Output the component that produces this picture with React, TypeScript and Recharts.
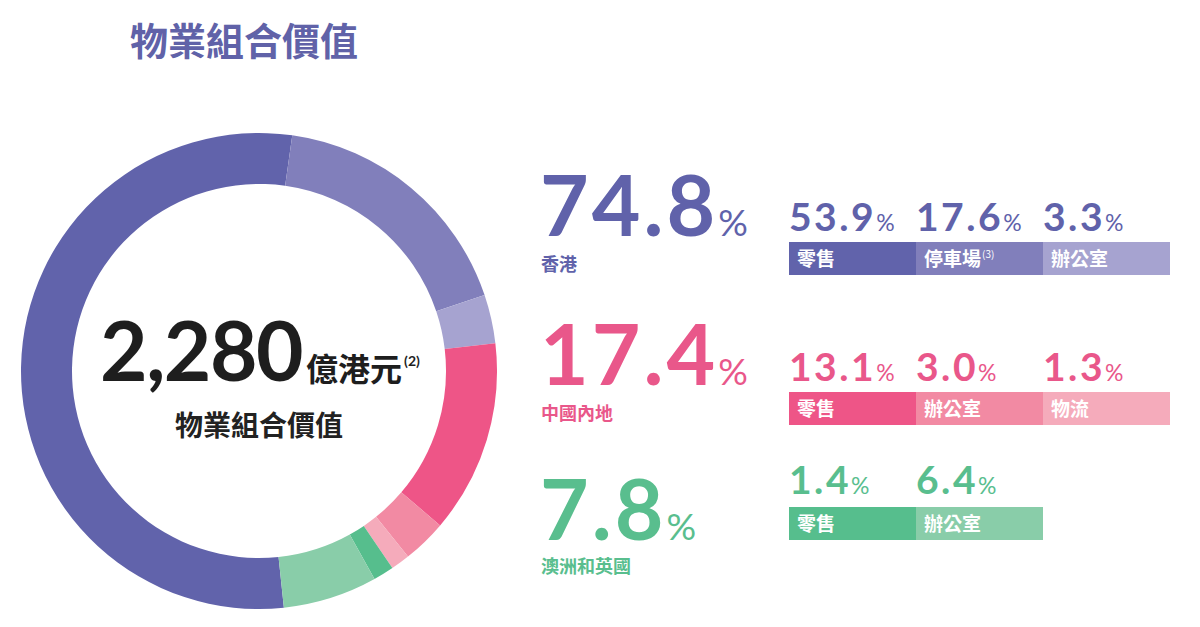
import { Cell, Pie, PieChart } from "recharts";

const title = "物業組合價值";
const totalValue = "2,280";
const totalUnit = "億港元";

const regions = ["香港", "中國內地", "澳洲和英國"];
const regionShares = [74.8, 17.4, 7.8];

const hkLabels = ["零售", "停車場", "辦公室"];
const hkValues = [53.9, 17.6, 3.3];
const cnLabels = ["零售", "辦公室", "物流"];
const cnValues = [13.1, 3.0, 1.3];
const auLabels = ["零售", "辦公室"];
const auValues = [1.4, 6.4];

const hkColors = ["#6163ab", "#817fbb", "#a6a3d0"];
const cnColors = ["#ee5587", "#f28aa3", "#f5abbb"];
const auColors = ["#56be8d", "#89cda9"];
const textColors = ["#6062aa", "#e9578a", "#59be8e"];

const LATIN = "Lato, 'Noto Sans CJK TC', sans-serif";
const CJK = "'Noto Sans CJK TC', sans-serif";

// slices in clockwise order, starting with HK retail
const groups = [
  { labels: hkLabels, values: hkValues, colors: hkColors },
  { labels: cnLabels, values: cnValues, colors: cnColors },
  { labels: auLabels, values: auValues, colors: auColors },
];
const pieData = groups.flatMap((g, gi) =>
  g.values.map((v, i) => ({
    name: `${regions[gi]}-${g.labels[i]}`,
    value: v,
    color: g.colors[i],
  }))
);

// layout of the right-hand panel
const rowBig = [236, 385, 540];
const rowSub = [231, 381, 494];
const rowBarTop = [242, 392, 507];
const BAR_H = 33;
const CELL_X = 789;
const CELL_W = 127;

function RegionBlock({ gi }: { gi: number }) {
  const g = groups[gi];
  const color = textColors[gi];
  return (
    <g>
      <text x={540} y={rowBig[gi]} fill={color} fontFamily={LATIN}>
        <tspan fontSize={84} fontWeight={700} letterSpacing={3}>
          {regionShares[gi].toFixed(1)}
        </tspan>
        <tspan fontSize={37} fontWeight={400}>
          %
        </tspan>
      </text>
      <text
        x={541}
        y={rowBig[gi] + (gi === 2 ? 33 : 35)}
        fill={color}
        fontFamily={CJK}
        fontSize={18}
        fontWeight={700}
      >
        {regions[gi]}
      </text>
      {g.values.map((v, i) => {
        const x = CELL_X + i * CELL_W;
        return (
          <g key={i}>
            <text x={x} y={rowSub[gi]} fill={color} fontFamily={LATIN}>
              <tspan fontSize={39} fontWeight={700} letterSpacing={2.5}>
                {v.toFixed(1)}
              </tspan>
              <tspan fontSize={23} fontWeight={400}>
                %
              </tspan>
            </text>
            <rect
              x={x}
              y={rowBarTop[gi]}
              width={CELL_W}
              height={BAR_H}
              fill={g.colors[i]}
            />
            <text
              x={x + 8}
              y={rowBarTop[gi] + 24}
              fill="#ffffff"
              fontFamily={CJK}
              fontSize={19}
              fontWeight={700}
            >
              {g.labels[i]}
              {gi === 0 && i === 1 ? (
                <tspan fontSize={10} fontWeight={400} dy={-8} dx={1}>
                  (3)
                </tspan>
              ) : null}
            </text>
          </g>
        );
      })}
    </g>
  );
}

export default function App() {
  return (
    <div
      style={{
        position: "absolute",
        left: 0,
        top: 0,
        width: 1200,
        height: 627,
        background: "#ffffff",
        overflow: "hidden",
      }}
    >
      <div style={{ position: "absolute", left: 0, top: 111 }}>
        <PieChart
          width={520}
          height={520}
          margin={{ top: 0, right: 0, bottom: 0, left: 0 }}
        >
          <Pie
            data={pieData}
            dataKey="value"
            cx={259}
            cy={260}
            innerRadius={187}
            outerRadius={238}
            startAngle={-84}
            endAngle={-444}
            stroke="none"
            isAnimationActive={false}
          >
            {pieData.map((d) => (
              <Cell key={d.name} fill={d.color} />
            ))}
          </Pie>
        </PieChart>
      </div>
      <svg
        width={1200}
        height={627}
        style={{ position: "absolute", left: 0, top: 0, pointerEvents: "none" }}
      >
        <text
          x={130}
          y={55}
          fill="#6062a8"
          fontFamily={CJK}
          fontSize={38}
          fontWeight={700}
        >
          {title}
        </text>

        <text x={260} y={381} textAnchor="middle" fill="#1e1e1e">
          <tspan
            fontFamily={LATIN}
            fontSize={82}
            fontWeight={700}
            letterSpacing={-1.5}
          >
            {totalValue}
          </tspan>
          <tspan fontFamily={CJK} fontSize={32} fontWeight={700} dx={4}>
            {totalUnit}
          </tspan>
          <tspan fontFamily={LATIN} fontSize={14} fontWeight={700} dy={-15} dx={2}>
            (2)
          </tspan>
        </text>
        <text
          x={259}
          y={436}
          textAnchor="middle"
          fill="#222222"
          fontFamily={CJK}
          fontSize={28}
          fontWeight={700}
        >
          {title}
        </text>

        {regions.map((_, gi) => (
          <RegionBlock key={gi} gi={gi} />
        ))}
      </svg>
    </div>
  );
}
